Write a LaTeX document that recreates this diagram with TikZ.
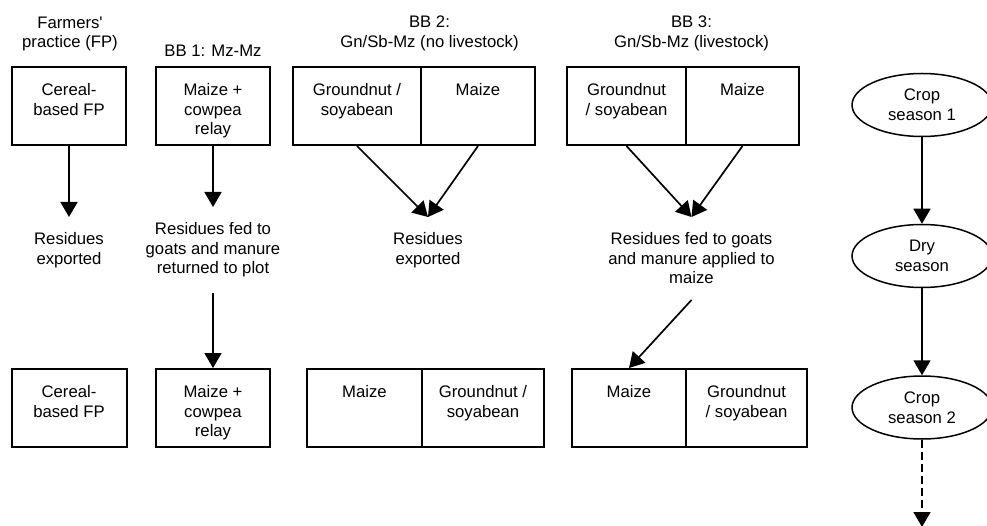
\documentclass[tikz,border=0pt]{standalone}
\usepackage{fontspec}
\setmainfont{Liberation Sans}
\usepackage{tikz}
\usetikzlibrary{arrows.meta,shapes.geometric}
\tikzset{every picture/.style={line width=1.7pt}}
\tikzset{
  cell/.style={draw, line width=2pt, inner sep=0pt, minimum height=78},
  txt/.style={anchor=north, inner sep=0pt, align=center, font=\fontsize{16.7pt}{19.5pt}\selectfont},
  res/.style={txt, inner ysep=15pt},
  season/.style={draw, ellipse, line width=1.5pt, minimum width=140, minimum height=63, inner sep=0pt, align=center, font=\fontsize{16.7pt}{19.5pt}\selectfont},
  flow/.style={-{Triangle[length=15pt,width=17pt]}}
}

\begin{document}
\begin{tikzpicture}[x=1pt,y=1pt,yscale=-1]
\clip (0,0) rectangle (987,526);
% column heads
\draw (70,16) node (hdrFP) [txt] {Farmers\textquotesingle\\practice (FP)};
\draw (213,44) node (hdrBBa) [txt] {BB 1: Mz-Mz};
\draw (429.5,15) node (hdrBBb) [txt] {BB 2:\\Gn/Sb-Mz (no livestock)};
\draw (691.5,15) node (hdrBBc) [txt] {BB 3:\\Gn/Sb-Mz (livestock)};

% first season
\draw (69,106) node (fpA) [cell, minimum width=114] {};
\draw (213,106) node (bbaA) [cell, minimum width=114] {};
\draw (357,106) node (gnbA) [cell, minimum width=128] {};
\draw (478,106) node (mzbA) [cell, minimum width=114] {};
\draw (626.5,106) node (gncA) [cell, minimum width=119] {};
\draw (742.5,106) node (mzcA) [cell, minimum width=113] {};
\draw (69,83) node (fpAtxt) [txt] {Cereal-\\based FP};
\draw (213,83) node (bbaAtxt) [txt] {Maize +\\cowpea\\relay};
\draw (357,83) node (gnbAtxt) [txt] {Groundnut /\\soyabean};
\draw (478,83) node (mzbAtxt) [txt] {Maize};
\draw (626.5,83) node (gncAtxt) [txt] {Groundnut\\/ soyabean};
\draw (742.5,83) node (mzcAtxt) [txt] {Maize};

% residues
\draw (69,217) node (resFP) [res] {Residues\\exported};
\draw (213,207) node (resBBa) [res] {Residues fed to\\goats and manure\\returned to plot};
\draw (428,217) node (resBBb) [res] {Residues\\exported};
\draw (691.5,217) node (resBBc) [res] {Residues fed to goats\\and manure applied to\\maize};

% second season
\draw (69,408) node (fpB) [cell, minimum width=115] {};
\draw (213,408) node (bbaB) [cell, minimum width=114] {};
\draw (364.5,408) node (mzbB) [cell, minimum width=115] {};
\draw (483,408) node (gnbB) [cell, minimum width=122] {};
\draw (629,408) node (mzcB) [cell, minimum width=114] {};
\draw (746.5,408) node (gncB) [cell, minimum width=121] {};
\draw (69,385) node (fpBtxt) [txt] {Cereal-\\based FP};
\draw (213,385) node (bbaBtxt) [txt] {Maize +\\cowpea\\relay};
\draw (364.5,385) node (mzbBtxt) [txt] {Maize};
\draw (483,385) node (gnbBtxt) [txt] {Groundnut /\\soyabean};
\draw (629,385) node (mzcBtxt) [txt] {Maize};
\draw (746.5,385) node (gncBtxt) [txt] {Groundnut\\/ soyabean};

\draw [flow] (fpA.south) -- (resFP.north);
\draw [flow] (bbaA.south) -- (resBBa.north);
\draw [flow] (resBBa.south) -- (bbaB.north);
\draw [flow] (gnbA.south) -- (resBBb.north);
\draw [flow] (mzbA.south) -- (resBBb.north);
\draw [flow] (gncA.south) -- (resBBc.north);
\draw [flow] (mzcA.south) -- (resBBc.north);
\draw [flow] (resBBc.south) -- (mzcB.north);

% seasons
\draw (922,105) node (cropOne) [season] {Crop\\season 1};
\draw (922,256) node (drySeason) [season] {Dry\\season};
\draw (922,407.5) node (cropTwo) [season] {Crop\\season 2};
\coordinate (nextSeason) at (922,527);
\draw [flow] (cropOne) -- (drySeason);
\draw [flow] (drySeason) -- (cropTwo);
\draw [flow, dash pattern=on 8pt off 4pt] (cropTwo) -- (nextSeason);
\end{tikzpicture}
\end{document}
